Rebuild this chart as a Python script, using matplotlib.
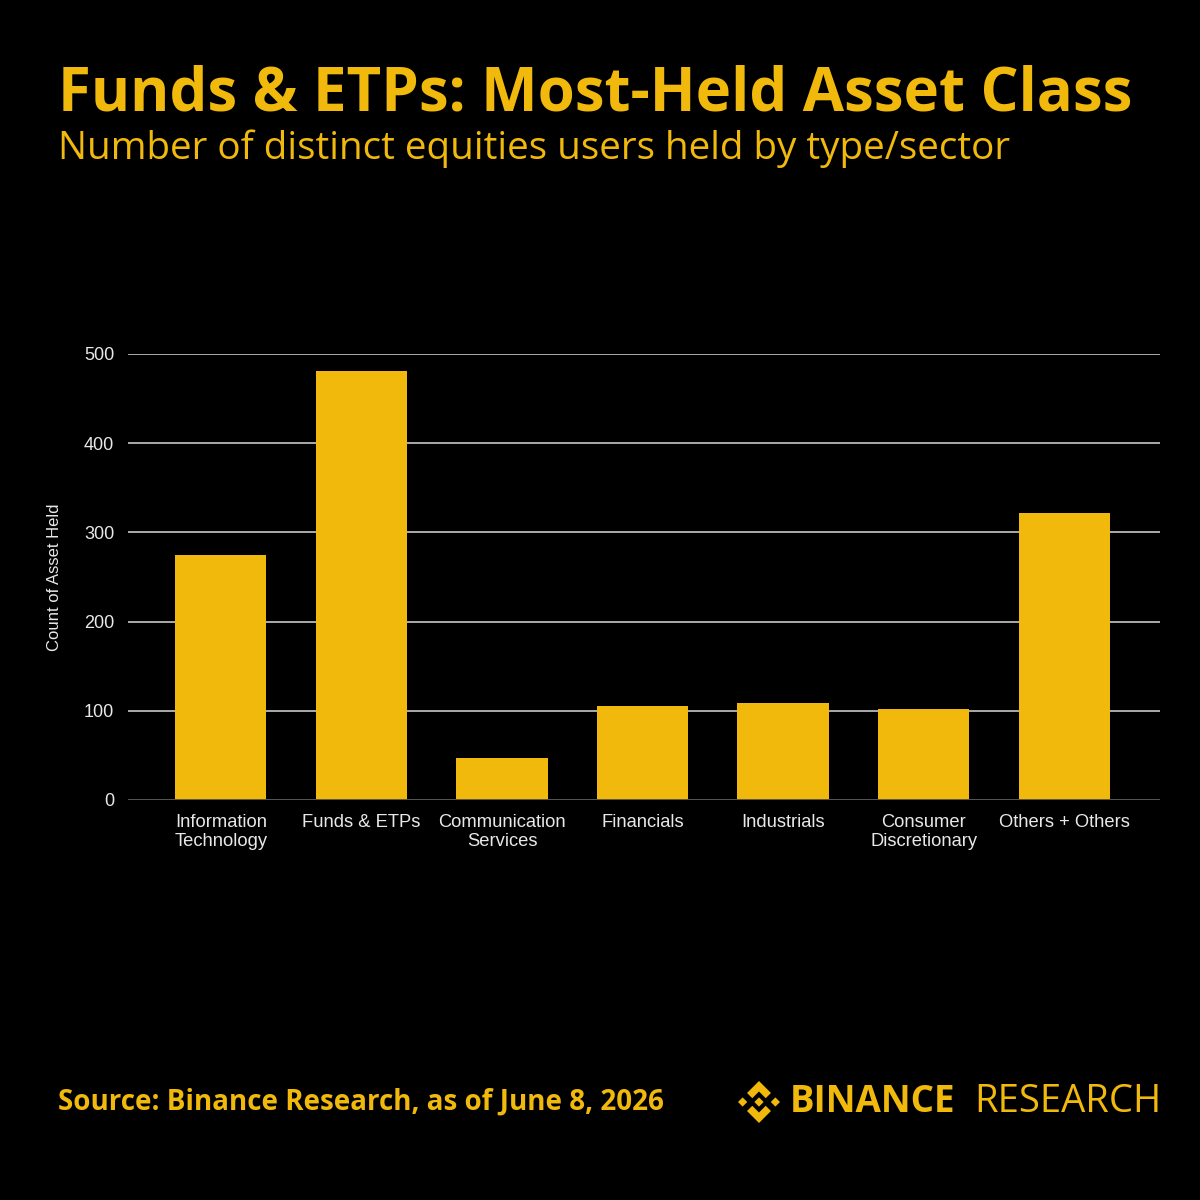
import matplotlib
matplotlib.use("Agg")
import matplotlib.pyplot as plt
from matplotlib.patches import Polygon
import numpy as np

# Data
categories = ["Information\nTechnology", "Funds & ETPs", "Communication\nServices",
              "Financials", "Industrials", "Consumer\nDiscretionary", "Others + Others"]
counts = [275, 481, 47, 105, 109, 102, 322]
yticks = [0, 100, 200, 300, 400, 500]

title = "Funds & ETPs: Most-Held Asset Class"
subtitle = "Number of distinct equities users held by type/sector"
source = "Source: Binance Research, as of June 8, 2026"

YELLOW = "#F0B90B"
BG = "#000000"

fig = plt.figure(figsize=(12, 12), dpi=100, facecolor=BG)

# overlay in pixel coords for header, footer and logo
over = fig.add_axes([0, 0, 1, 1], zorder=0)
over.set_xlim(0, 1200)
over.set_ylim(1200, 0)
over.axis("off")

over.text(58, 95, title, color=YELLOW, fontsize=43.1, fontweight="bold",
          family="Open Sans", va="center", ha="left")
over.text(58, 149, subtitle, color=YELLOW, fontsize=27.8,
          family="Open Sans", va="center", ha="left")
over.text(58, 1102, source, color=YELLOW, fontsize=20, fontweight="bold",
          family="Open Sans", va="center", ha="left")

# Binance logo mark
cx, cy, r = 759, 1102, 21
def mark(pts):
    over.add_patch(Polygon([(cx + x * r, cy - y * r) for x, y in pts],
                           closed=True, color=YELLOW, lw=0))
d = 0.22
mark([(0, d), (d, 0), (0, -d), (-d, 0)])
for sx in (-0.78, 0.78):
    mark([(sx, d), (sx + d, 0), (sx, -d), (sx - d, 0)])
top = [(0, 1), (0.57, 0.43), (0.32, 0.18), (0, 0.5), (-0.32, 0.18), (-0.57, 0.43)]
mark(top)
mark([(x, -y) for x, y in top])

over.text(790, 1102, "BINANCE", color=YELLOW, fontsize=26.5, fontweight="bold",
          family="Open Sans", va="center", ha="left")
over.text(1162, 1102, "RESEARCH", color=YELLOW, fontsize=27.5, fontweight="medium",
          family="Open Sans", va="center", ha="right")

# Chart
ax = fig.add_axes([128 / 1200, 1 - 800 / 1200, (1160 - 128) / 1200, (800 - 354) / 1200],
                  zorder=1)
ax.set_facecolor("none")
x = np.arange(len(categories))
ax.bar(x, counts, width=0.65, color=YELLOW, zorder=3)
ax.set_xlim(-0.66, len(categories) - 1 + 0.68)
ax.set_ylim(0, 500)
ax.set_yticks(yticks)
ax.set_xticks(x)
ax.set_xticklabels(categories, family="Liberation Sans", fontsize=13.2, color="#e8e8e8",
                   linespacing=1.15)
ax.set_yticklabels([str(t) for t in yticks], family="Liberation Sans", fontsize=13,
                   color="#e8e8e8")
ax.tick_params(length=0, pad=10)
ax.tick_params(axis="x", pad=10)
ax.grid(axis="y", color="#c8c8c8", lw=1.2, zorder=0)
for s in ax.spines.values():
    s.set_visible(False)
ax.axhline(0, color="#444444", lw=1.2, zorder=4)
ax.set_ylabel("Count of Asset Held", family="Liberation Sans", fontsize=12,
              color="#e8e8e8", labelpad=16)

fig.savefig("out.png", dpi=100, facecolor=BG)
